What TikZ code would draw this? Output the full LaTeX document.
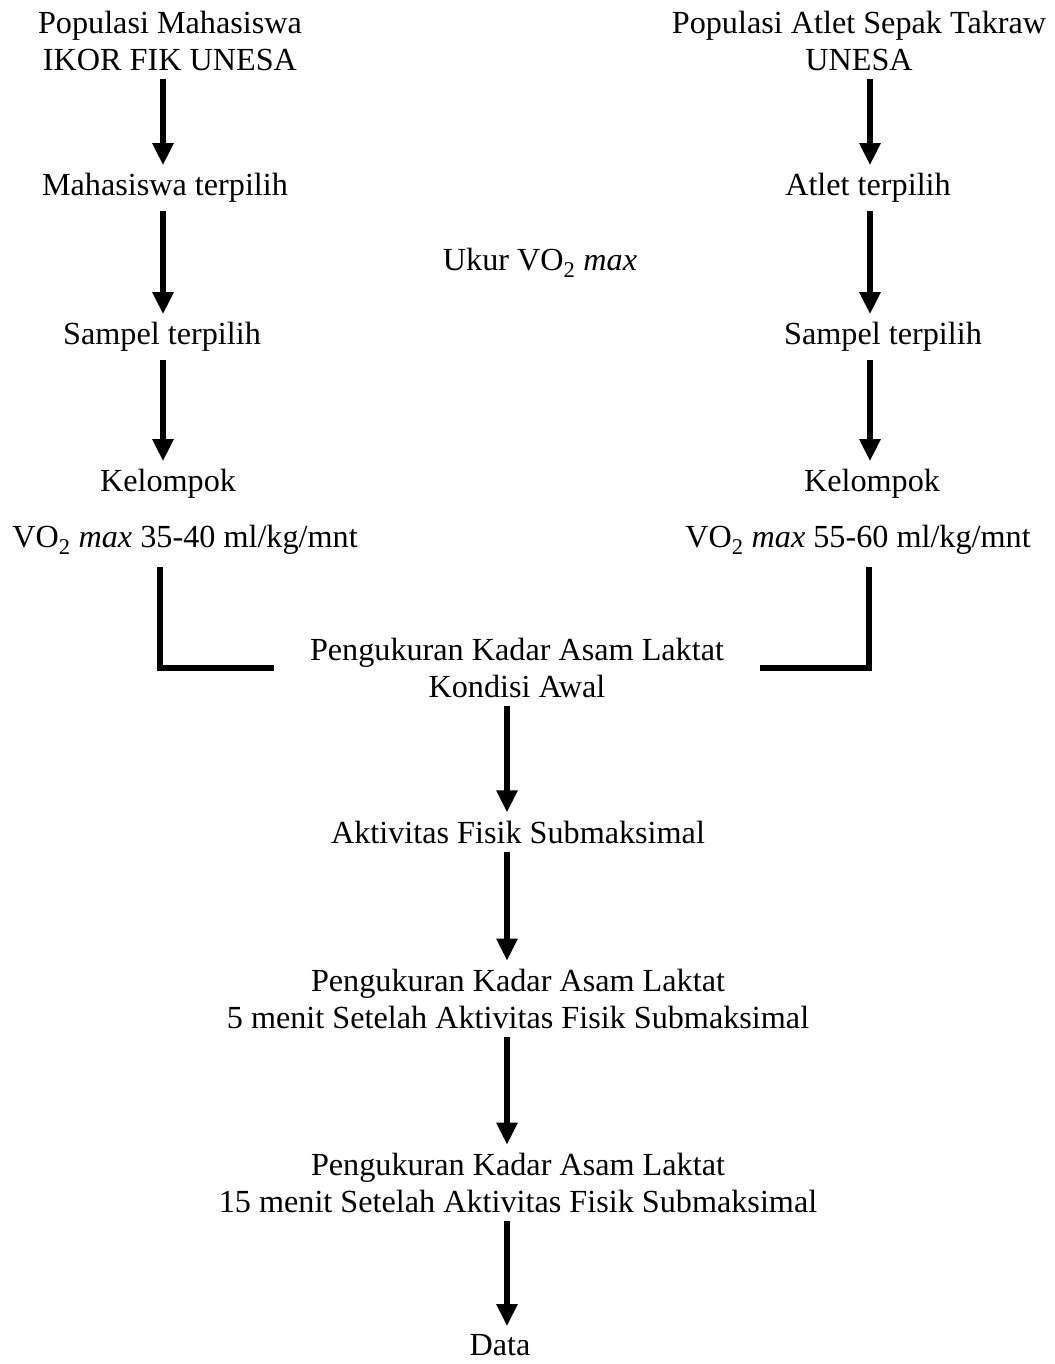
\documentclass[tikz,border=0pt]{standalone}
\usepackage{fontspec}
\setmainfont{Liberation Serif}
\usetikzlibrary{arrows.meta}

\tikzset{
    txt/.style = {inner sep=0pt, align=center, font=\fontsize{32.2}{37.5}\selectfont},
    flow/.style = {line width=5.5pt, -{Triangle[length=22pt,width=20pt]}, shorten <=8pt, shorten >=8pt},
    elbow/.style = {line width=5.5pt, shorten <=12pt, shorten >=36pt}
}

\begin{document}
\begin{tikzpicture}[x=1pt, y=-1pt]
                \useasboundingbox (0,0) rectangle (1054,1364);

                \coordinate (colL) at (163,0);
                \coordinate (colR) at (870,0);
                \coordinate (colM) at (507,0);
                \coordinate (cornL) at (160,0);
                \coordinate (cornR) at (869,0);

                \node[txt] (popL) at (170,41) {Populasi Mahasiswa\\IKOR FIK UNESA};
                \node[txt] (pilL) at (165,188) {Mahasiswa terpilih};
                \node[txt] (samL) at (162,337) {Sampel terpilih};
                \node[txt] (kelL) at (168,484) {Kelompok};
                \node[txt] (vo2L) at (185,540) {VO\textsubscript{2} \textit{max} 35-40 ml/kg/mnt};

                \node[txt] (popR) at (859,41) {Populasi Atlet Sepak Takraw\\UNESA};
                \node[txt] (pilR) at (868,188) {Atlet terpilih};
                \node[txt] (samR) at (883,337) {Sampel terpilih};
                \node[txt] (kelR) at (872,484) {Kelompok};
                \node[txt] (vo2R) at (858,540) {VO\textsubscript{2} \textit{max} 55-60 ml/kg/mnt};

                \node[txt] (ukur) at (540,263) {Ukur VO\textsubscript{2} \textit{max}};

                \node[txt] (awal) at (517,668) {Pengukuran Kadar Asam Laktat\\Kondisi Awal};
                \node[txt] (akt) at (518,832) {Aktivitas Fisik Submaksimal};
                \node[txt] (lima) at (518,999) {Pengukuran Kadar Asam Laktat\\5 menit Setelah Aktivitas Fisik Submaksimal};
                \node[txt] (limabelas) at (518,1183) {Pengukuran Kadar Asam Laktat\\15 menit Setelah Aktivitas Fisik Submaksimal};
                \node[txt] (data) at (500,1345) {Data};

                \draw[flow] (popL.south -| colL) -- (pilL.north -| colL);
                \draw[flow] (pilL.south -| colL) -- (samL.north -| colL);
                \draw[flow] (samL.south -| colL) -- (kelL.north -| colL);

                \draw[flow] (popR.south -| colR) -- (pilR.north -| colR);
                \draw[flow] (pilR.south -| colR) -- (samR.north -| colR);
                \draw[flow] (samR.south -| colR) -- (kelR.north -| colR);

                \draw[elbow] (vo2L.south -| cornL) |- (awal.west);
                \draw[elbow] (vo2R.south -| cornR) |- (awal.east);

                \draw[flow] (awal.south -| colM) -- (akt.north -| colM);
                \draw[flow] (akt.south -| colM) -- (lima.north -| colM);
                \draw[flow] (lima.south -| colM) -- (limabelas.north -| colM);
                \draw[flow] (limabelas.south -| colM) -- (data.north -| colM);
\end{tikzpicture}
\end{document}
